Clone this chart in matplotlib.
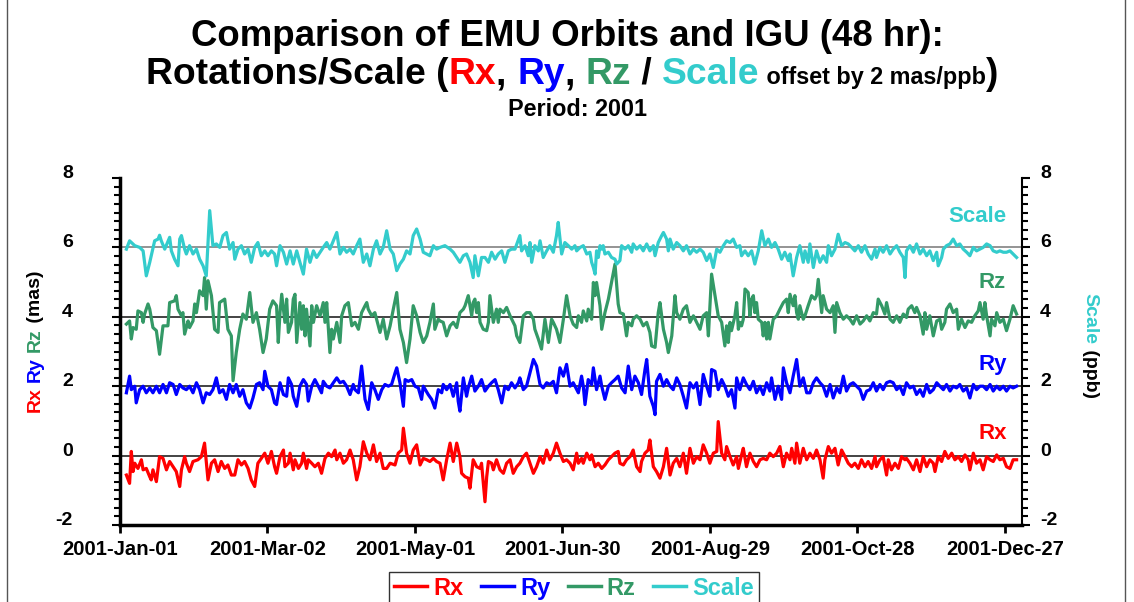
import numpy as np
import matplotlib
matplotlib.use("Agg")
import matplotlib.pyplot as plt
from matplotlib.lines import Line2D
from matplotlib.ticker import MultipleLocator, FixedLocator, FuncFormatter
import matplotlib.dates as mdates

plt.rcParams['font.family'] = ['Liberation Sans', 'DejaVu Sans']
plt.rcParams['font.weight'] = 'bold'

# Daily solutions for 2001: day = days elapsed since 2001-01-01,
# values are rotations (mas) / scale (ppb) before the plotting offsets.
rx_day = [
    2.6, 3.9, 4.6, 5.3, 6.0, 7.3, 8.7, 9.4, 10.7, 12.1, 12.7, 13.4, 14.8, 16.1,
    17.5, 18.9, 20.2, 21.6, 22.9, 24.3, 25.0, 26.3, 27.0, 28.3, 29.7, 31.7,
    33.1, 34.4, 35.8, 37.2, 38.5, 39.9, 41.2, 42.6, 43.9, 45.3, 46.7, 48.0,
    49.4, 50.7, 52.1, 53.4, 54.8, 56.1, 57.5, 58.9, 60.2, 61.6, 62.9,
    63.7, 65.1, 66.5, 67.1, 68.5, 69.2, 70.5, 71.2, 72.6, 73.9, 74.6, 75.9,
    76.6, 78.0, 79.3, 80.7, 82.0, 83.4, 84.8, 86.1, 87.5, 88.2, 89.5, 90.9,
    92.2, 93.6, 94.9, 96.3, 97.6, 99.0, 100.4, 101.7, 103.1, 104.4, 105.8,
    107.1, 108.5, 109.9, 111.9, 113.2, 114.6, 115.3, 116.6, 118.0, 119.3,
    120.7, 122.1, 123.4,
    124.8, 126.1, 127.5, 128.8, 130.2, 131.5, 132.9, 134.3, 135.6, 137.0,
    138.3, 139.0, 140.4, 141.7, 142.4, 143.7, 145.1, 146.5, 147.1, 148.5,
    149.2, 149.9, 151.2, 151.9, 153.2, 154.6, 156.0, 157.3, 158.7, 160.0,
    161.4, 162.7, 164.1, 165.4, 166.8, 168.2, 169.5, 170.9, 172.2, 173.6,
    174.9, 176.3, 177.6, 179.0, 180.4, 181.7, 183.1, 184.4,
    185.8, 186.5, 187.8, 188.5, 189.9, 191.2, 191.9, 193.3, 194.6, 196.0,
    197.3, 198.7, 200.0, 201.4, 202.7, 203.4, 204.8, 206.1, 207.5, 208.8,
    210.2, 211.6, 212.2, 213.6, 214.9, 215.6, 217.0, 218.3, 219.7, 221.1,
    222.4, 223.8, 225.1, 226.5, 227.8, 229.2, 230.5, 231.9, 233.3, 234.6,
    236.0, 237.3, 238.7, 240.0, 241.4, 242.8, 243.4, 244.8, 246.1,
    246.8, 248.2, 249.5, 250.9, 251.6, 252.9, 253.6, 254.9, 256.3, 257.7,
    259.0, 260.4, 261.7, 263.1, 264.4, 265.8, 267.2, 268.5, 269.9, 271.2,
    272.6, 273.3, 274.6, 275.3, 276.6, 278.0, 279.4, 280.7, 282.1, 283.4,
    284.8, 286.1, 286.8, 288.2, 289.5, 290.9, 292.2, 293.6, 295.0, 296.3,
    297.7, 299.0, 300.4, 301.7, 303.1, 304.4, 305.8, 307.2,
    307.8, 309.2, 310.5, 311.9, 312.6, 313.9, 315.3, 316.7, 318.0, 319.4,
    320.0, 321.4, 322.8, 324.1, 325.5, 326.8, 328.2, 329.5, 330.9, 331.6,
    332.9, 334.3, 335.6, 337.0, 338.4, 339.7, 341.1, 342.4, 343.8, 345.1,
    345.8, 347.2, 348.5, 349.9, 351.2, 352.6, 354.0, 355.3, 356.7, 358.0,
    359.4, 360.7, 362.1, 363.4, 364.8,
]
rx_val = [
    -0.56, -0.80, 0.12, -0.46, -0.22, -0.37, -0.12, -0.41, -0.37, -0.61,
    -0.70, -0.41, -0.75, -0.03, -0.08, -0.41, -0.17, -0.32, -0.46, -0.89,
    -0.41, -0.03, -0.22, -0.46, -0.17, -0.12, -0.03, 0.36, -0.70, -0.22,
    -0.12, -0.46, -0.17, -0.37, -0.27, -0.56, -0.56, -0.12, -0.27, -0.17,
    -0.37, -0.70, -0.89, -0.22, -0.08, 0.07, -0.22, 0.12, -0.32,
    -0.51, -0.03, 0.16, -0.32, -0.22, 0.07, -0.41, -0.12, -0.37, -0.22,
    0.07, -0.37, -0.12, -0.22, -0.32, -0.22, -0.51, -0.08, 0.07, -0.03,
    0.16, -0.12, 0.07, -0.22, -0.12, 0.16, -0.12, -0.70, -0.32, 0.40,
    0.07, -0.12, 0.31, -0.17, 0.07, -0.37, -0.37, -0.22, -0.27, 0.07,
    0.16, 0.79, 0.07, -0.22, 0.16, 0.31, -0.27, -0.08,
    -0.12, -0.17, -0.08, -0.17, -0.22, -0.70, -0.12, 0.36, -0.17, 0.36,
    -0.03, -0.51, -0.61, -0.65, -0.94, -0.12, -0.32, -0.37, -0.22, -1.33,
    -0.61, -0.17, -0.22, -0.41, -0.12, -0.41, -0.51, -0.22, -0.12, -0.51,
    -0.32, -0.22, -0.03, 0.07, -0.22, -0.51, -0.32, -0.03, -0.22, 0.16,
    -0.12, 0.07, 0.36, 0.07, -0.17, -0.12, -0.22, -0.41,
    0.07, -0.22, -0.08, -0.22, 0.07, -0.12, 0.02, -0.32, -0.22, -0.37,
    -0.27, -0.12, -0.03, 0.07, 0.12, -0.22, -0.27, -0.12, -0.03, 0.16,
    -0.32, -0.46, -0.17, 0.07, 0.16, 0.45, -0.32, -0.46, -0.65, -0.32,
    0.21, -0.56, -0.22, -0.08, -0.32, 0.07, -0.51, 0.21, -0.22, -0.03,
    -0.12, 0.31, 0.07, -0.22, 0.07, 0.12, 0.98, 0.07, -0.12,
    0.26, -0.03, -0.27, -0.03, -0.37, 0.02, 0.21, -0.32, 0.07, -0.17,
    -0.32, -0.12, -0.08, -0.12, 0.07, -0.03, 0.07, 0.26, -0.32, 0.07,
    -0.12, 0.21, -0.22, 0.36, -0.22, 0.21, -0.12, 0.07, -0.08, 0.16,
    -0.12, -0.65, -0.12, 0.26, 0.07, 0.21, -0.27, 0.16, -0.03, -0.22,
    -0.32, -0.22, -0.37, -0.12, -0.32, -0.17, -0.37, -0.03,
    -0.32, -0.12, -0.03, -0.56, -0.12, -0.41, -0.22, -0.37, -0.03, -0.12,
    -0.08, -0.22, -0.41, -0.12, -0.46, -0.03, -0.32, -0.12, -0.22, -0.46,
    -0.03, -0.17, 0.12, -0.08, 0.07, -0.12, -0.03, -0.17, 0.02, -0.12,
    -0.41, 0.07, -0.22, -0.12, -0.41, -0.03, -0.12, -0.17, 0.02, -0.12,
    -0.08, -0.32, -0.37, -0.12, -0.12,
]

ry_day = [
    2.6, 3.9, 4.6, 6.0, 6.6, 8.0, 9.4, 10.7, 12.1, 13.4, 14.8, 16.1, 17.5,
    18.9, 20.2, 21.6, 22.9, 24.3, 25.6, 27.0, 28.3, 29.7, 31.1, 32.4, 33.8,
    35.1, 36.5, 37.8, 39.2, 40.5, 41.9, 43.3, 44.6, 46.0, 47.3, 48.7, 50.0,
    51.4, 52.8, 54.1, 55.5, 56.8, 58.2, 58.9, 60.2, 61.6, 62.9,
    63.7, 65.1, 66.5, 67.8, 68.5, 69.8, 70.5, 71.9, 73.2, 74.6, 75.9, 76.6,
    78.0, 79.3, 80.7, 82.0, 82.7, 84.1, 85.4, 86.8, 88.2, 89.5, 90.9, 92.2,
    93.6, 94.9, 95.6, 97.0, 98.3, 99.7, 101.0, 102.4, 103.7, 105.1, 106.5,
    107.8, 109.2, 110.5, 111.9, 112.6, 113.9, 115.3, 116.0, 117.3, 118.7,
    120.0, 121.4, 122.7, 123.4,
    125.4, 126.8, 128.1, 129.5, 130.9, 131.5, 132.9, 134.3, 135.6, 137.0,
    137.6, 138.3, 139.7, 141.0, 141.7, 143.1, 144.4, 145.8, 147.1, 148.5,
    149.9, 151.2, 152.6, 153.9, 155.3, 156.6, 158.0, 159.3, 160.7, 162.1,
    162.7, 164.1, 165.4, 166.8, 168.2, 169.5, 170.9, 172.2, 173.6, 174.9,
    176.3, 177.6, 179.0, 180.4, 181.7, 183.1, 184.4,
    186.5, 187.8, 188.5, 189.2, 190.5, 191.9, 192.6, 193.9, 195.3, 196.0,
    197.3, 198.7, 200.0, 201.4, 202.7, 204.1, 205.5, 206.8, 208.2, 209.5,
    210.9, 212.2, 213.6, 214.3, 215.6, 217.0, 217.7, 218.3, 219.7, 221.1,
    222.4, 223.8, 225.1, 226.5, 227.8, 229.2, 230.5, 231.9, 233.3, 234.6,
    236.0, 237.3, 238.7, 240.0, 240.7, 242.1, 243.4, 244.8, 246.1,
    247.5, 248.8, 250.2, 250.9, 252.2, 253.6, 254.9, 256.3, 257.7, 259.0,
    260.4, 261.7, 263.1, 264.4, 265.1, 266.5, 267.8, 269.2, 269.9, 271.2,
    272.6, 273.9, 275.3, 276.6, 278.0, 279.4, 280.7, 282.1, 283.4, 284.8,
    286.1, 287.5, 288.9, 290.2, 291.6, 292.9, 294.3, 295.6, 297.0, 298.3,
    299.7, 301.1, 302.4, 303.8, 305.1, 306.5,
    307.8, 309.2, 310.5, 311.9, 313.3, 314.6, 316.0, 317.3, 318.7, 320.0,
    321.4, 322.8, 324.1, 325.5, 326.8, 328.2, 329.5, 330.9, 332.3, 333.6,
    335.0, 336.3, 337.7, 339.0, 340.4, 341.7, 343.1, 344.5, 345.8, 347.2,
    348.5, 349.9, 351.2, 352.6, 354.0, 355.3, 356.7, 358.0, 359.4, 360.7,
    362.1, 363.4, 364.8,
]
ry_val = [
    -0.19, 0.29, -0.10, 0.00, -0.48, -0.10, 0.00, -0.19, -0.05, -0.19,
    0.00, -0.19, 0.05, -0.19, 0.10, 0.05, -0.24, 0.05, -0.05, -0.10,
    0.00, -0.19, 0.10, -0.10, -0.48, -0.19, -0.24, -0.10, 0.24, -0.19,
    -0.10, -0.38, 0.05, -0.19, 0.05, -0.29, -0.10, -0.48, -0.63, -0.34,
    0.05, 0.10, -0.10, 0.43, 0.00, -0.10, -0.48,
    -0.53, 0.10, -0.24, -0.29, 0.24, 0.05, -0.29, -0.58, 0.00, 0.19,
    0.05, -0.43, 0.00, 0.19, 0.00, -0.19, 0.14, 0.00, -0.05, 0.10,
    0.24, 0.10, 0.14, 0.00, -0.24, 0.05, -0.10, -0.19, 0.58, -0.38,
    -0.67, 0.10, -0.10, -0.38, -0.10, 0.05, 0.00, 0.05, 0.38, 0.53,
    0.10, -0.58, 0.19, 0.14, 0.19, 0.00, -0.05, -0.38, 0.00,
    -0.24, -0.38, -0.63, -0.10, -0.19, 0.05, -0.10, 0.05, -0.29, 0.10,
    -0.43, -0.72, 0.24, -0.29, -0.05, 0.29, -0.14, 0.00, 0.19, -0.14,
    0.00, 0.10, 0.19, -0.10, -0.48, 0.00, -0.10, 0.10, -0.05, 0.10,
    0.24, -0.10, 0.00, 0.38, 0.77, 0.58, 0.05, -0.05, 0.10, 0.05,
    0.14, -0.19, 0.53, 0.29, 0.63, 0.00, 0.10,
    -0.19, 0.29, 0.00, -0.53, 0.19, 0.05, 0.53, -0.10, 0.29, 0.00,
    -0.38, 0.00, 0.10, 0.19, 0.29, -0.05, -0.19, 0.58, -0.10, 0.29,
    0.10, -0.24, 0.48, 0.77, -0.29, -0.58, -0.82, 0.14, 0.34, 0.00,
    0.19, 0.00, -0.10, 0.24, 0.05, -0.29, -0.63, 0.10, -0.05, 0.10,
    -0.53, 0.34, 0.00, -0.29, 0.48, 0.43, -0.10, 0.19, 0.00,
    -0.29, -0.10, -0.63, 0.24, -0.10, 0.24, 0.05, -0.10, 0.14, -0.19,
    0.00, -0.24, 0.10, -0.14, 0.24, -0.38, 0.00, -0.38, 0.53, 0.10,
    -0.19, 0.29, 0.77, 0.00, 0.24, -0.19, -0.19, 0.10, 0.24, 0.10,
    0.00, -0.29, 0.05, -0.34, -0.05, -0.19, 0.29, -0.14, 0.05, 0.10,
    0.00, -0.10, -0.38, -0.14, -0.10, 0.10,
    -0.14, 0.05, -0.10, 0.10, 0.14, 0.10, -0.10, 0.00, -0.24, 0.10,
    -0.05, 0.00, -0.24, -0.10, -0.29, 0.05, -0.19, -0.10, 0.10, 0.00,
    -0.10, 0.05, -0.14, 0.00, -0.05, 0.05, -0.14, -0.05, -0.34, 0.05,
    -0.10, 0.00, 0.00, -0.10, 0.05, -0.14, 0.00, -0.10, 0.00, -0.14,
    0.00, -0.05, 0.00,
]

rz_day = [
    2.6, 3.9, 4.6, 5.3, 6.6, 7.3, 8.7, 9.4, 10.0, 11.4, 12.1, 13.4, 14.8,
    16.1, 17.5, 19.5, 20.2, 22.2, 22.9, 23.6, 25.0, 25.6, 26.3, 27.7, 28.3,
    29.7, 30.4, 31.1, 32.4, 33.8, 34.4, 35.1, 35.8, 37.2, 38.5, 39.9, 40.5,
    42.6, 43.9, 45.3, 46.0, 47.3, 48.7, 50.0, 51.4, 52.8, 54.1, 55.5, 56.8,
    58.2, 59.5, 60.9, 62.2,
    63.7, 64.4, 65.1, 65.8, 67.1, 67.8, 68.5, 69.8, 70.5, 71.2, 71.9, 73.2,
    73.9, 74.6, 75.3, 75.9, 77.3, 78.0, 78.7, 80.0, 81.4, 82.7, 83.4, 84.1,
    85.4, 86.1, 86.8, 88.2, 89.5, 90.2, 91.5, 92.9, 94.3, 95.6, 97.0, 98.3,
    99.7, 100.4, 101.0, 102.4, 103.7, 104.4, 105.8, 107.1, 108.5, 109.9,
    111.2, 112.6, 113.9, 115.3, 116.6, 118.0, 119.3, 120.7, 122.1, 123.4,
    124.8, 126.1, 127.5, 128.1, 129.5, 130.2, 131.5, 132.9, 134.3, 135.6,
    137.0, 138.3, 139.7, 140.4, 141.7, 143.1, 143.7, 144.4, 145.1, 145.8,
    146.5, 147.8, 149.2, 149.9, 150.5, 151.9, 153.2, 153.9, 154.6, 156.0,
    157.3, 158.7, 160.0, 160.7, 161.4, 162.7, 164.1, 165.4, 166.8, 168.2,
    168.8, 170.2, 171.5, 172.9, 174.3, 175.6, 176.3, 177.6, 179.0, 180.4,
    181.7, 183.1, 184.4,
    185.8, 186.5, 187.8, 188.5, 189.9, 190.5, 191.9, 192.6, 193.3, 193.9,
    195.3, 196.0, 197.3, 198.7, 200.0, 201.4, 202.7, 203.4, 204.8, 205.5,
    206.1, 206.8, 208.2, 208.8, 210.2, 211.6, 212.9, 214.3, 215.6, 216.3,
    217.7, 219.0, 219.7, 221.1, 222.4, 223.1, 224.5, 225.8, 226.5, 227.8,
    229.2, 230.5, 231.9, 233.3, 234.6, 236.0, 237.3, 238.7, 239.4, 240.7,
    242.1, 243.4, 244.8, 246.1,
    246.8, 247.5, 248.2, 248.8, 250.2, 250.9, 251.6, 252.2, 252.9, 253.6,
    254.3, 255.6, 256.3, 257.0, 257.7, 258.3, 259.0, 259.7, 261.1, 261.7,
    262.4, 263.1, 263.8, 264.4, 265.8, 267.2, 268.5, 269.9, 271.2, 271.9,
    272.6, 273.9, 274.6, 275.3, 276.0, 276.6, 278.0, 278.7, 280.0, 281.4,
    282.7, 283.4, 284.1, 285.5, 286.1, 287.5, 288.9, 290.2, 290.9, 291.6,
    292.9, 294.3, 295.6, 297.0, 298.3, 299.7, 301.1, 302.4, 303.8, 305.1,
    306.5,
    307.8, 308.5, 309.9, 311.2, 311.9, 313.3, 314.6, 316.0, 317.3, 318.7,
    320.0, 320.7, 322.1, 323.4, 324.1, 325.5, 326.8, 327.5, 328.2, 329.5,
    330.9, 332.3, 333.6, 334.3, 335.6, 336.3, 337.7, 339.0, 340.4, 341.1,
    342.4, 343.8, 345.1, 346.5, 347.8, 349.2, 349.9, 351.2, 351.9, 352.6,
    354.0, 354.6, 356.0, 356.7, 358.0, 359.4, 360.7, 362.1, 363.4, 364.8,
]
rz_val = [
    -0.21, -0.12, -0.64, -0.31, -0.36, 0.17, 0.12, -0.16, 0.08, 0.37,
    0.22, -0.31, -0.40, -1.08, -0.26, -0.26, 0.41, 0.46, 0.61, 0.22,
    0.03, 0.12, -0.50, -0.12, -0.31, -0.12, 0.37, 0.12, 0.75, 0.61,
    1.13, 0.22, 1.04, 0.61, -0.36, -0.45, 0.41, 0.51, -0.36, -0.55,
    -1.84, -1.03, -0.36, 0.08, -0.07, 0.70, -0.16, 0.12, -0.36, -1.03,
    -0.64, 0.22, 0.46,
    0.32, -0.74, 0.12, 0.65, -0.16, 0.51, -0.45, -0.16, 0.51, 0.65,
    -0.74, 0.41, -0.36, 0.32, -0.55, 0.22, -0.84, 0.32, -0.16, 0.32,
    0.03, 0.41, -0.16, 0.41, -1.03, -0.36, -0.64, -0.16, -0.74, 0.03,
    0.32, 0.41, -0.26, -0.16, -0.36, 0.12, 0.32, 0.41, 0.22, 0.03,
    0.12, -0.07, -0.45, -0.07, -0.64, -0.26, 0.22, 0.70, -0.36, -0.74,
    -1.32, -0.64, 0.32, 0.03, -0.45, -0.74,
    -0.55, -0.16, 0.37, -0.36, -0.07, -0.12, -0.16, -0.55, -0.26, -0.16,
    -0.31, 0.12, 0.22, 0.32, 0.61, 0.03, 0.41, 0.51, 0.12, 0.41,
    -0.16, -0.36, -0.40, -0.16, 0.61, -0.16, 0.22, -0.16, 0.22, 0.12,
    0.27, 0.03, -0.16, -0.26, -0.55, -0.74, 0.03, 0.12, 0.12, -0.07,
    -0.36, -0.64, -0.93, -0.07, -0.74, -0.07, -0.16, -0.36, -0.74, -0.07,
    0.61, 0.03, -0.21,
    -0.31, 0.03, -0.16, 0.17, -0.12, 0.22, -0.07, 0.99, 0.61, 0.99,
    0.32, -0.36, 0.12, 0.51, 0.99, 1.52, 0.37, 0.12, 0.08, -0.26,
    -0.55, -0.16, -0.26, -0.07, 0.03, -0.07, -0.26, -0.16, -0.45, -0.84,
    -0.88, 0.12, 0.41, -0.36, -0.74, -1.03, -0.55, 0.61, 0.12, -0.07,
    0.22, 0.32, -0.16, 0.03, -0.16, -0.36, 0.03, 0.12, -0.55, 1.23,
    0.61, 0.03, -0.16, -0.84,
    -0.26, -0.74, -0.16, -0.40, 0.03, 0.41, -0.36, -0.16, -0.26, -0.07,
    0.80, 0.70, 0.03, 0.51, 0.61, 0.12, 0.41, -0.07, -0.16, -0.55,
    -0.16, -0.64, -0.16, -0.64, -0.07, 0.03, 0.22, 0.41, 0.51, 0.12,
    0.65, 0.32, 0.61, 0.12, -0.07, 0.32, -0.07, 0.03, 0.32, 0.61,
    0.51, 0.61, 1.08, 0.12, 0.61, 0.22, 0.12, 0.32, -0.45, 0.41,
    0.12, -0.07, 0.03, -0.07, -0.21, 0.03, -0.21, -0.12, 0.03, -0.12,
    0.12,
    0.08, 0.51, 0.32, 0.08, 0.41, -0.07, -0.16, 0.03, -0.16, 0.08,
    -0.02, 0.22, 0.32, 0.12, 0.27, 0.03, -0.50, 0.12, -0.36, 0.03,
    -0.55, -0.12, -0.07, -0.36, -0.16, 0.22, 0.37, 0.12, 0.22, -0.36,
    -0.07, -0.31, -0.12, -0.16, 0.03, 0.17, 0.41, -0.07, 0.41, 0.03,
    -0.55, -0.07, -0.26, 0.12, -0.16, -0.07, -0.40, -0.07, 0.32, 0.08,
]

scale_day = [
    2.6, 3.9, 6.0, 8.0, 9.4, 10.7, 12.1, 12.7, 14.1, 15.5, 16.1, 16.8, 18.2,
    20.2, 20.9, 22.2, 23.6, 24.3, 25.0, 26.3, 27.0, 28.3, 29.7, 31.1, 32.4,
    33.8, 35.1, 36.5, 37.8, 39.2, 40.6, 41.9, 43.3, 44.6, 46.0, 46.7, 48.0,
    49.4, 50.7, 52.1, 53.4, 54.8, 56.1, 57.5, 58.9, 60.2, 61.6, 62.9,
    63.7, 65.1, 66.5, 67.8, 69.2, 70.5, 71.9, 73.2, 74.6, 75.9, 77.3, 78.7,
    80.0, 81.4, 82.7, 84.1, 85.4, 86.8, 88.2, 89.5, 90.9, 92.2, 93.6, 94.9,
    96.3, 97.6, 99.0, 100.4, 101.7, 103.1, 104.4, 105.8, 107.1, 108.5,
    109.9, 111.2, 112.6, 113.9, 115.3, 116.6, 118.0, 119.3, 120.7, 122.1,
    123.4,
    126.1, 127.5, 128.8, 130.2, 132.2, 134.3, 135.6, 137.0, 138.3, 139.7,
    141.0, 142.4, 143.7, 144.4, 145.8, 147.1, 148.5, 149.9, 151.2, 152.6,
    153.9, 155.3, 156.6, 158.0, 159.3, 160.7, 162.7, 163.4, 164.8, 166.1,
    166.8, 167.5, 168.8, 170.2, 170.9, 172.2, 173.6, 174.9, 176.3, 177.6,
    178.3, 179.7, 181.0, 182.4, 183.8, 185.1,
    185.8, 187.2, 188.5, 189.9, 191.2, 191.9, 192.6, 193.3, 193.9, 194.6,
    195.3, 196.0, 196.6, 197.3, 198.7, 200.0, 201.4, 202.1, 203.4, 204.1,
    205.5, 206.8, 208.2, 208.8, 210.2, 211.6, 212.9, 214.3, 215.6, 217.0,
    217.7, 219.0, 220.4, 221.1, 222.4, 223.1, 223.8, 225.1, 226.5, 227.8,
    229.2, 230.5, 231.9, 233.3, 234.6, 236.0, 237.3, 238.7, 240.0, 241.4,
    242.8, 244.1, 245.5,
    246.8, 248.2, 249.5, 250.9, 252.2, 252.9, 254.3, 255.6, 257.0, 258.3,
    259.7, 261.1, 262.4, 263.8, 265.1, 266.5, 267.8, 269.2, 270.5, 271.9,
    272.6, 273.3, 273.9, 275.3, 276.6, 278.0, 278.7, 280.0, 280.7, 282.1,
    283.4, 284.8, 286.1, 287.5, 288.2, 289.5, 290.9, 292.2, 293.6, 295.0,
    296.3, 297.7, 299.0, 300.4, 301.7, 303.1, 304.4, 305.8, 307.2,
    307.8, 309.2, 310.5, 311.9, 313.3, 314.6, 316.0, 317.3, 318.7, 319.4,
    320.0, 321.4, 322.8, 324.1, 325.5, 326.8, 328.2, 329.5, 330.9, 332.3,
    332.9, 334.3, 335.0, 336.3, 337.7, 339.0, 340.4, 341.7, 343.1, 344.5,
    345.8, 347.2, 348.5, 349.9, 351.2, 352.6, 354.0, 355.3, 356.7, 358.0,
    359.4, 360.7, 362.1, 363.4, 364.8,
]
scale_val = [
    -0.05, 0.19, 0.05, 0.00, -0.10, -0.82, -0.43, -0.24, 0.19, 0.24,
    0.35, 0.19, -0.05, 0.29, -0.10, -0.34, -0.53, 0.24, 0.34, -0.05,
    -0.19, 0.05, -0.19, -0.05, -0.34, -0.53, -0.82, 1.06, 0.05, 0.10,
    0.00, 0.34, 0.43, -0.05, 0.14, -0.34, -0.05, 0.05, -0.19, -0.05,
    -0.43, 0.00, 0.14, -0.24, -0.10, -0.24, -0.10, -0.19,
    -0.53, 0.05, -0.14, -0.48, -0.10, -0.48, -0.10, -0.43, -0.77, -0.05,
    -0.43, -0.10, -0.29, -0.14, 0.00, 0.14, -0.05, 0.19, 0.43, -0.19,
    0.00, -0.14, -0.05, -0.19, 0.05, 0.24, -0.43, -0.19, -0.53, -0.05,
    0.19, -0.19, 0.00, 0.48, -0.05, -0.19, -0.67, -0.48, -0.34, -0.10,
    -0.19, 0.34, 0.53, 0.24, -0.14,
    -0.24, 0.05, -0.05, 0.00, 0.05, -0.05, -0.14, -0.29, -0.43, -0.24,
    -0.19, -0.43, -0.87, -0.24, -0.82, -0.29, -0.29, -0.43, -0.14, -0.34,
    -0.19, -0.10, -0.43, -0.10, -0.05, -0.05, 0.34, -0.10, 0.05, -0.24,
    0.14, -0.43, 0.05, -0.10, 0.19, -0.29, -0.10, 0.05, -0.14, 0.34,
    0.72, -0.19, 0.14, 0.05, -0.05, 0.05,
    -0.10, 0.00, 0.05, -0.19, -0.14, -0.43, -0.58, -0.77, -0.10, -0.29,
    0.05, -0.05, 0.05, -0.19, -0.14, -0.29, -0.34, -0.48, -0.38, 0.05,
    -0.05, 0.05, -0.14, 0.10, -0.05, 0.05, -0.10, 0.10, -0.10, 0.05,
    -0.24, 0.14, 0.34, 0.43, 0.24, -0.10, 0.24, -0.05, 0.14, 0.05,
    -0.10, 0.05, -0.19, -0.05, -0.14, -0.05, -0.14, -0.38, -0.19, -0.58,
    -0.05, -0.14, 0.05,
    0.19, 0.14, 0.24, 0.00, 0.05, -0.24, -0.10, -0.24, -0.10, -0.48,
    -0.10, 0.48, 0.05, 0.24, 0.00, 0.14, -0.05, -0.34, -0.14, -0.38,
    -0.19, -0.53, -0.82, -0.29, 0.05, -0.43, -0.10, -0.43, 0.10, -0.58,
    -0.10, -0.43, -0.24, -0.43, 0.05, -0.24, -0.05, 0.38, 0.05, 0.14,
    0.10, 0.00, -0.10, 0.05, -0.14, 0.05, -0.19, -0.34, -0.05,
    -0.29, 0.00, -0.14, 0.05, -0.19, -0.05, 0.05, -0.14, -0.29, -0.87,
    -0.10, 0.05, -0.14, 0.10, -0.19, -0.05, -0.24, -0.10, -0.38, -0.14,
    -0.53, -0.29, -0.05, 0.05, 0.10, 0.24, 0.05, 0.10, -0.05, -0.14,
    -0.24, 0.00, -0.10, -0.05, 0.00, 0.10, 0.05, -0.10, -0.14, -0.10,
    -0.14, -0.14, -0.10, -0.19, -0.29,
]

names = ['Rx', 'Ry', 'Rz', 'Scale']
offsets = [0, 2, 4, 6]
colors = ['#FF0000', '#0000FF', '#339966', '#33CCCC']
tick_dates = ['2001-01-01', '2001-03-02', '2001-05-01', '2001-06-30',
              '2001-08-29', '2001-10-28', '2001-12-27']

W, H = 1134, 602
fig = plt.figure(figsize=(W / 100, H / 100), dpi=100)


def fx(px):
    return px / W


def fy(py):
    return 1 - py / H


# page frame lines at the left and right edges
for xe in (7, 1125):
    fig.add_artist(Line2D([fx(xe), fx(xe)], [0, 1], color='#555555',
                          lw=1.0, transform=fig.transFigure))

ax = fig.add_axes([fx(120), fy(525), fx(1022) - fx(120), fy(178) - fy(525)])

for ref, c in zip([0, 2, 4, 6], ['#111111', '#111111', '#111111', '#777777']):
    ax.axhline(ref, color=c, lw=1.1, zorder=1)

t0 = mdates.date2num(np.datetime64('2001-01-01'))
series = [(rx_day, rx_val), (ry_day, ry_val), (rz_day, rz_val),
          (scale_day, scale_val)]
for (d, v), off, c in zip(series, offsets, colors):
    ax.plot(t0 + np.asarray(d), np.asarray(v) + off, color=c, lw=2.3,
            zorder=3)

ax.set_xlim(t0, mdates.date2num(np.datetime64('2002-01-03')))
ax.set_ylim(-2, 8)

ax.xaxis.set_major_locator(FixedLocator(
    mdates.date2num(np.array(tick_dates, dtype='datetime64[D]'))))
ax.xaxis.set_major_formatter(mdates.DateFormatter('%Y-%b-%d'))

ax2 = ax.twinx()
ax2.set_ylim(-2, 8)
for a in (ax, ax2):
    a.yaxis.set_major_locator(MultipleLocator(2))
    a.yaxis.set_minor_locator(MultipleLocator(0.25))
    a.yaxis.set_major_formatter(FuncFormatter(lambda v, p: f'{v:g}'))
    a.spines['top'].set_visible(False)

ax.spines['left'].set_linewidth(2.5)
ax.spines['bottom'].set_linewidth(2.5)
ax.spines['right'].set_visible(False)
ax2.spines['left'].set_visible(False)
ax2.spines['bottom'].set_visible(False)
ax2.spines['right'].set_linewidth(1.5)

ax.tick_params(axis='y', which='both', left=True, right=False,
               direction='out', labelsize=14, width=1.5)
ax.tick_params(axis='y', which='major', length=6, pad=28)
ax.tick_params(axis='y', which='minor', length=4)
ax2.tick_params(axis='y', which='both', direction='out', labelsize=14,
                width=1.5)
ax2.tick_params(axis='y', which='major', length=6, pad=7)
ax2.tick_params(axis='y', which='minor', length=4)
ax.tick_params(axis='x', which='major', direction='out', length=6,
               width=2, labelsize=14.6, pad=5)

fig.canvas.draw()
for a in (ax, ax2):
    for t in a.yaxis.get_major_ticks():
        t.label1.set_verticalalignment('baseline')
        t.label2.set_verticalalignment('baseline')

# series names at the right end
label_pos = [('2001-12-22', 0.64), ('2001-12-22', 2.63),
             ('2001-12-22', 5.0), ('2001-12-16', 6.88)]
for name, c, (d, yv) in zip(names, colors, label_pos):
    ax.text(mdates.date2num(np.datetime64(d)), yv, name, color=c,
            fontsize=16, ha='center', va='center')

# titles
fig.text(fx(567), fy(37), 'Comparison of EMU Orbits and IGU (48 hr):',
         ha='center', va='center', fontsize=26.4)
fig.text(fx(577), fy(110), 'Period: 2001', ha='center', va='center',
         fontsize=16.8)

renderer = fig.canvas.get_renderer()


def chain_h(pieces, y_px, center_x_px):
    texts = []
    for s, c, fs in pieces:
        texts.append(fig.text(0, fy(y_px), s, color=c, fontsize=fs,
                              ha='left', va='baseline'))
    widths = [t.get_window_extent(renderer).width for t in texts]
    x = center_x_px - sum(widths) / 2
    for t, w in zip(texts, widths):
        t.set_x(fx(x))
        x += w


big, small = 26.8, 16.8
chain_h([('Rotations/Scale (', 'black', big), ('Rx', colors[0], big),
         (', ', 'black', big), ('Ry', colors[1], big), (', ', 'black', big),
         ('Rz', colors[2], big), (' / ', 'black', big),
         ('Scale', colors[3], big), (' offset by 2 mas/ppb', 'black', small),
         (')', 'black', big)], 84, 572)


def chain_v(pieces, x_px, start_y_px, rotation):
    y = start_y_px
    for s, c, fs in pieces:
        if rotation == 90:
            t = fig.text(fx(x_px), fy(y), s, color=c, fontsize=fs,
                         rotation=90, ha='center', va='bottom')
            y -= t.get_window_extent(renderer).height
        else:
            t = fig.text(fx(x_px), fy(y), s, color=c, fontsize=fs,
                         rotation=-90, ha='center', va='top')
            y += t.get_window_extent(renderer).height


chain_v([('Rx', colors[0], 14), (' ', 'black', 14), ('Ry', colors[1], 14),
         (' ', 'black', 14), ('Rz', colors[2], 14), (' (mas)', 'black', 14)],
        35, 412, 90)
chain_v([('Scale', colors[3], 14), (' (ppb)', 'black', 14)],
        1090, 293, -90)

handles = [Line2D([], [], color=c, lw=2.5) for c in colors]
leg = fig.legend(handles, names, loc='upper center', ncol=4,
                 bbox_to_anchor=(fx(574), fy(572)), frameon=True,
                 fancybox=False, edgecolor='black', fontsize=17,
                 handlelength=1.4, handletextpad=0.25, columnspacing=0.75,
                 borderpad=0.2, borderaxespad=0, labelcolor='linecolor')
leg.get_frame().set_linewidth(1.0)

fig.savefig('out.png', dpi=100)
